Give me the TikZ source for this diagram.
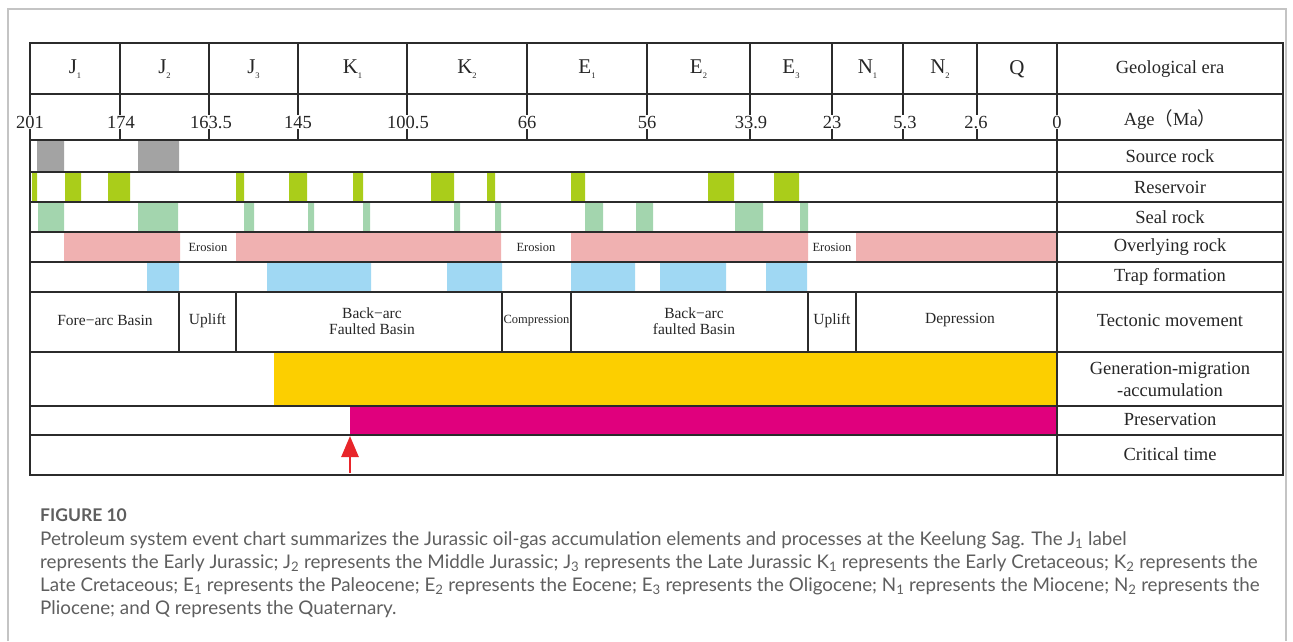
\documentclass[tikz,border=0pt]{standalone}
\usepackage{fontspec}
\setmainfont{Liberation Serif}
\newfontfamily\capfont{Lato}
\newfontfamily\cjkfont{Noto Sans CJK SC}
\usepackage{xcolor}
\usetikzlibrary{arrows.meta}

\definecolor{gridcol}{HTML}{2B2B2B}
\definecolor{txtcol}{HTML}{262626}
\definecolor{framecol}{HTML}{C4C4C4}
\definecolor{capcol}{HTML}{5E5E5E}
\definecolor{srcgray}{HTML}{A3A3A3}
\definecolor{resgreen}{HTML}{AACD1A}
\definecolor{sealgreen}{HTML}{A3D5AE}
\definecolor{overpink}{HTML}{F0B1B1}
\definecolor{trapblue}{HTML}{A0D8F3}
\definecolor{genyellow}{HTML}{FCCF00}
\definecolor{presmagenta}{HTML}{E0007D}
\definecolor{critred}{HTML}{E8252A}

\newcommand{\erasub}[2]{#1\raisebox{-0.25em}{\fontsize{8.5}{8.5}\selectfont #2}}

\begin{document}
\begin{tikzpicture}[x=1pt, y=-1pt,
    rowline/.style={gridcol, line width=1.6pt},
    outerline/.style={gridcol, line width=2.6pt},
    eralbl/.style={text=txtcol, font=\fontsize{21}{21}\selectfont},
    agelbl/.style={text=txtcol, fill=white, inner sep=0.6pt, font=\fontsize{18.5}{18.5}\selectfont},
    rowlbl/.style={text=txtcol, align=center, font=\fontsize{18.5}{22}\selectfont},
    tectlbl/.style={text=txtcol, align=center, font=\fontsize{15.5}{16.5}\selectfont},
    smalllbl/.style={text=txtcol, inner sep=0pt, font=\fontsize{12.5}{12.5}\selectfont},
    captext/.style={anchor=base west, inner sep=0pt, text=capcol, font=\capfont\fontsize{18.8}{22}\selectfont},
    critarrow/.style={critred, line width=2.6pt, -{Triangle[width=17pt,length=21pt]}}]

    \useasboundingbox (0,0) rectangle (1293,641);
    % outer frame of the figure
    \draw[framecol, line width=1.5pt] (8,641) -- (8,9) -- (1286,9) -- (1286,641);

    % event bars
    \fill[srcgray] (37,140) rectangle (64,172) (138,140) rectangle (179,172);
    \fill[resgreen] (32,172) rectangle (37,202) (65,172) rectangle (81,202) (108,172) rectangle (130,202)
        (236,172) rectangle (244,202) (289,172) rectangle (307,202) (353,172) rectangle (363,202)
        (431,172) rectangle (454,202) (487,172) rectangle (495,202) (571,172) rectangle (585,202)
        (708,172) rectangle (734,202) (774,172) rectangle (799,202);
    \fill[sealgreen] (38,202) rectangle (64,232) (138,202) rectangle (178,232) (244,202) rectangle (254,232)
        (308,202) rectangle (314,232) (363,202) rectangle (370,232) (454,202) rectangle (460,232)
        (495,202) rectangle (501,232) (585,202) rectangle (603,232) (636,202) rectangle (653,232)
        (735,202) rectangle (763,232) (800,202) rectangle (808,232);
    \fill[overpink] (64,232) rectangle (180,262) (236,232) rectangle (501,262)
        (571,232) rectangle (808,262) (856,232) rectangle (1057,262);
    \fill[trapblue] (147,262) rectangle (179,292) (267,262) rectangle (371,292) (447,262) rectangle (502,292)
        (571,262) rectangle (635,292) (660,262) rectangle (726,292) (766,262) rectangle (807,292);
    \fill[genyellow] (274,352) rectangle (1057,406);
    \fill[presmagenta] (350,406) rectangle (1057,435);

    % table lines
    \draw[rowline] (30,94) -- (1283,94) (30,140) -- (1283,140) (30,172) -- (1283,172)
        (30,202) -- (1283,202) (30,232) -- (1283,232) (30,262) -- (1283,262)
        (30,292) -- (1283,292) (30,352) -- (1283,352) (30,406) -- (1283,406) (30,435) -- (1283,435);
    \draw[rowline] (1057,43) -- (1057,475);
    \draw[rowline] (120,43) -- (120,140) (209,43) -- (209,140) (298,43) -- (298,140) (407,43) -- (407,140)
        (527,43) -- (527,140) (647,43) -- (647,140) (750,43) -- (750,140) (832,43) -- (832,140)
        (903,43) -- (903,140) (977,43) -- (977,140);
    \draw[rowline] (179,292) -- (179,352) (236,292) -- (236,352) (502,292) -- (502,352)
        (571,292) -- (571,352) (808,292) -- (808,352) (856,292) -- (856,352);
    \draw[outerline] (30,43) rectangle (1283,475);

    % geological era
    \node[eralbl] (j1) at (75,69) {\erasub{J}{1}};
    \node[eralbl] (j2) at (164.5,69) {\erasub{J}{2}};
    \node[eralbl] (j3) at (253.5,69) {\erasub{J}{3}};
    \node[eralbl] (k1) at (352.5,69) {\erasub{K}{1}};
    \node[eralbl] (k2) at (467,69) {\erasub{K}{2}};
    \node[eralbl] (e1) at (587,69) {\erasub{E}{1}};
    \node[eralbl] (e2) at (698.5,69) {\erasub{E}{2}};
    \node[eralbl] (e3) at (791,69) {\erasub{E}{3}};
    \node[eralbl] (n1) at (867.5,69) {\erasub{N}{1}};
    \node[eralbl] (n2) at (940,69) {\erasub{N}{2}};
    \node[eralbl] (q) at (1017,69) {Q};

    % age in Ma
    \node[agelbl] (a201) at (30,122) {201};
    \node[agelbl] (a174) at (121,122) {174};
    \node[agelbl] (a163) at (211,122) {163.5};
    \node[agelbl] (a145) at (298,122) {145};
    \node[agelbl] (a100) at (408,122) {100.5};
    \node[agelbl] (a66) at (527,122) {66};
    \node[agelbl] (a56) at (647,122) {56};
    \node[agelbl] (a33) at (751,122) {33.9};
    \node[agelbl] (a23) at (832,122) {23};
    \node[agelbl] (a5) at (905,122) {5.3};
    \node[agelbl] (a2) at (976,122) {2.6};
    \node[agelbl] (a0) at (1057,122) {0};

    % erosion gaps and tectonic stages
    \node[smalllbl] (ero1) at (208,247) {Erosion};
    \node[smalllbl] (ero2) at (536,247) {Erosion};
    \node[smalllbl] (ero3) at (832,247) {Erosion};
    \node[tectlbl] (forearc) at (105,320) {Fore−arc Basin};
    \node[tectlbl] (uplift1) at (207.5,321) {Uplift};
    \node[tectlbl] (backarc1) at (372,321) {Back−arc\\Faulted Basin};
    \node[smalllbl] (compress) at (536.5,321) {Compression};
    \node[tectlbl] (backarc2) at (694,321) {Back−arc\\faulted Basin};
    \node[tectlbl] (uplift2) at (832,321) {Uplift};
    \node[tectlbl] (depress) at (960,320) {Depression};

    % row titles
    \node[rowlbl] (eraT) at (1170,69) {Geological era};
    \node[rowlbl] (ageT) at (1170,120) {Age{\cjkfont （}Ma{\cjkfont ）}};
    \node[rowlbl] (srcT) at (1170,156) {Source rock};
    \node[rowlbl] (resT) at (1170,187) {Reservoir};
    \node[rowlbl] (sealT) at (1170,217) {Seal rock};
    \node[rowlbl] (overT) at (1170,247) {Overlying rock};
    \node[rowlbl] (trapT) at (1170,277) {Trap formation};
    \node[rowlbl] (tectT) at (1170,320) {Tectonic movement};
    \node[rowlbl] (genT) at (1170,379) {Generation-migration\\-accumulation};
    \node[rowlbl] (presT) at (1170,419) {Preservation};
    \node[rowlbl] (critT) at (1170,454) {Critical time};

    % critical moment
    \coordinate (critbase) at (350,473);
    \coordinate (crittip) at (350,436);
    \draw[critarrow] (critbase) -- (crittip);

    % caption
    \node[captext, font=\capfont\bfseries\fontsize{17.5}{20}\selectfont] (figno) at (40,521) {FIGURE 10};
    \node[captext] (cap1) at (40,545) {Petroleum system event chart summarizes the Jurassic oil-gas accumulation elements and processes at the Keelung Sag. The J\textsubscript{1} label};
    \node[captext] (cap2) at (40,568) {represents the Early Jurassic; J\textsubscript{2} represents the Middle Jurassic; J\textsubscript{3} represents the Late Jurassic K\textsubscript{1} represents the Early Cretaceous; K\textsubscript{2} represents the};
    \node[captext] (cap3) at (40,591) {Late Cretaceous; E\textsubscript{1} represents the Paleocene; E\textsubscript{2} represents the Eocene; E\textsubscript{3} represents the Oligocene; N\textsubscript{1} represents the Miocene; N\textsubscript{2} represents the};
    \node[captext] (cap4) at (40,614) {Pliocene; and Q represents the Quaternary.};
\end{tikzpicture}
\end{document}
